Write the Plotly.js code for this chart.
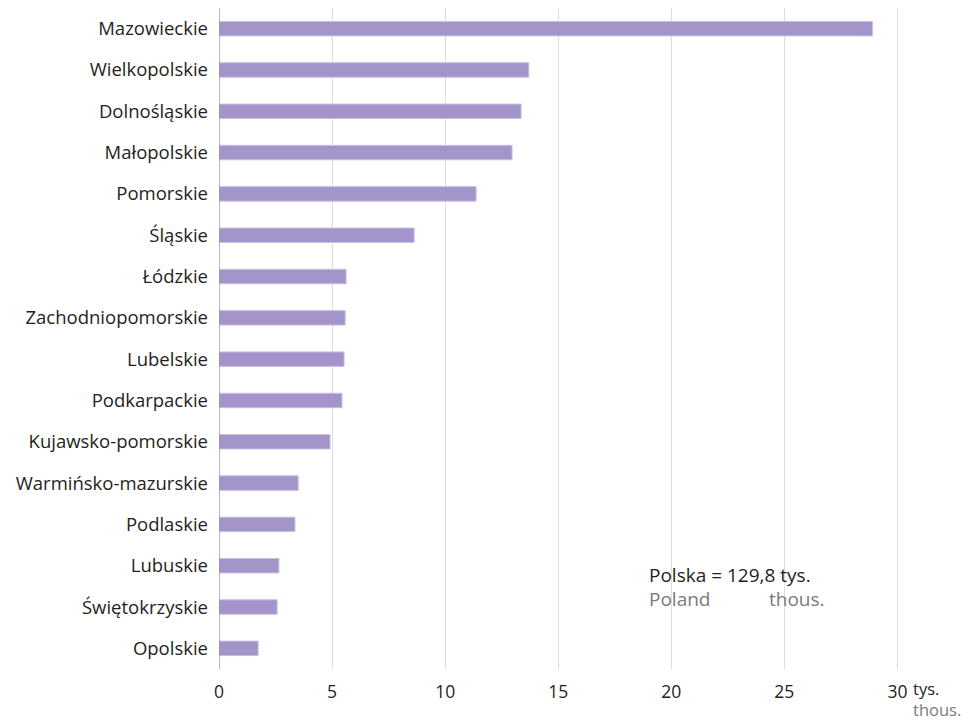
<!DOCTYPE html>
<html>
<head>
<meta charset="utf-8">
<script src="https://cdn.plot.ly/plotly-3.0.1.min.js"></script>
<style>html,body{margin:0;padding:0;background:#fff;}#chart{width:968px;height:721px;}</style>
</head>
<body>
<div id="chart"></div>
<script>
const regions = ["Mazowieckie","Wielkopolskie","Dolnośląskie","Małopolskie","Pomorskie","Śląskie","Łódzkie","Zachodniopomorskie","Lubelskie","Podkarpackie","Kujawsko-pomorskie","Warmińsko-mazurskie","Podlaskie","Lubuskie","Świętokrzyskie","Opolskie"];
const values = [28.9,13.7,13.36,12.96,11.37,8.63,5.62,5.58,5.53,5.44,4.91,3.5,3.36,2.65,2.57,1.73];
const tickVals = [0,5,10,15,20,25,30];
const tickLabels = ["0","5","10","15","20","25","30"];
const totalText = "Polska = 129,8 tys.";

const FONT = "Open Sans, sans-serif";
const FS = 18.5;
const trace = {
  type: "bar",
  orientation: "h",
  y: regions,
  x: values,
  width: 0.35,
  marker: {color: "#a395c9", line: {color: "#c8bfe2", width: 1}},
  hoverinfo: "x+y"
};

const layout = {
  width: 968, height: 721,
  margin: {l: 219, r: 48, t: 8, b: 52},
  paper_bgcolor: "#fff", plot_bgcolor: "#fff",
  showlegend: false,
  font: {family: FONT, size: FS, color: "#231f20"},
  xaxis: {
    range: [0, 31],
    tickvals: tickVals, ticktext: tickLabels,
    showgrid: true, gridcolor: "#dedede", gridwidth: 1,
    zeroline: false, showline: false, ticks: "",
    ticklabelstandoff: 10,
    tickfont: {family: FONT, size: 17.5, color: "#231f20"}
  },
  yaxis: {
    type: "category",
    autorange: "reversed",
    showgrid: false, zeroline: false,
    showline: false, ticks: "",
    ticklabelstandoff: 10,
    tickfont: {family: FONT, size: FS, color: "#231f20"}
  },
  shapes: [
    {type: "line", xref: "x", yref: "paper", x0: 0, x1: 0, y0: 0, y1: 1, line: {color: "#8a8a8a", width: 1.2}, layer: "above"},
    {type: "rect", xref: "x", yref: "paper", x0: 18.5, x1: 27.5, y0: 0.056, y1: 0.187, fillcolor: "#ffffff", line: {width: 0}, layer: "between"}
  ],
  annotations: [
    {xref: "x", yref: "paper", x: 18.94, y: 0.142, xanchor: "left", yanchor: "middle", showarrow: false, text: totalText, font: {family: FONT, size: 19, color: "#231f20"}},
    {xref: "x", yref: "paper", x: 18.94, y: 0.1055, xanchor: "left", yanchor: "middle", showarrow: false, text: "Poland", font: {family: FONT, size: 19, color: "#7a7a7a"}},
    {xref: "x", yref: "paper", x: 24.25, y: 0.1055, xanchor: "left", yanchor: "middle", showarrow: false, text: "thous.", font: {family: FONT, size: 19, color: "#7a7a7a"}},
    {xref: "x", yref: "paper", x: 30, y: -0.046, xanchor: "left", yanchor: "middle", xshift: 14, showarrow: false, align: "left",
     text: "tys.<br><span style='color:#7a7a7a'>thous.</span>", font: {family: FONT, size: 16.5, color: "#231f20"}}
  ]
};

Plotly.newPlot("chart", [trace], layout, {displayModeBar: false, staticPlot: true});
</script>
</body>
</html>
